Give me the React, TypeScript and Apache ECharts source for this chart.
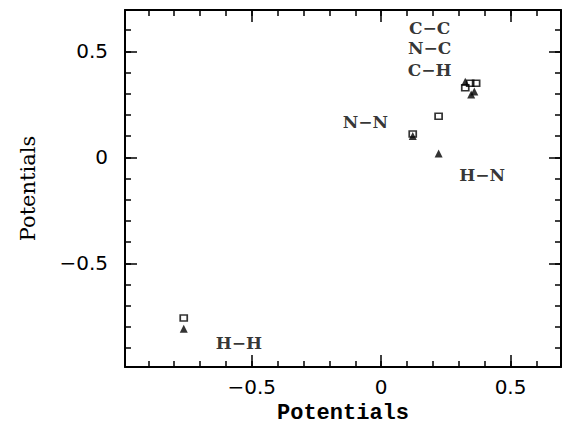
import React, { useEffect, useRef } from "react";
import * as echarts from "echarts";

const AXIS_MIN = -0.99;
const AXIS_MAX = 0.695;
const majorTicks = [-0.5, 0, 0.5];
const minorTicks = [-0.9, -0.8, -0.7, -0.6, -0.5, -0.4, -0.3, -0.2, -0.1, 0, 0.1, 0.2, 0.3, 0.4, 0.5, 0.6];

const bondNames = ["H−H", "N−N", "H−N", "C−C", "N−C", "C−H"];
const squareX = [-0.763, 0.122, 0.222, 0.325, 0.344, 0.367];
const squareY = [-0.758, 0.11, 0.194, 0.328, 0.349, 0.349];
const triangleX = [-0.763, 0.122, 0.222, 0.325, 0.348, 0.36];
const triangleY = [-0.809, 0.1, 0.018, 0.357, 0.296, 0.31];

const labelX = [-0.55, -0.061, 0.39, 0.187, 0.187, 0.187];
const labelY = [-0.874, 0.166, -0.085, 0.611, 0.515, 0.414];

const fmt = (v: number) => {
  const r = Math.round(v * 10) / 10;
  if (r === 0) return "0";
  return (r < 0 ? "−" : "") + String(Math.abs(r));
};

export default function App() {
  const ref = useRef<HTMLDivElement>(null);
  useEffect(() => {
    document.body.style.margin = "0";
    if (!ref.current) return;
    const chart = echarts.init(ref.current, undefined, { renderer: "svg" });
    const lineStyle = { color: "#000", width: 2 };
    const tickLabel = { fontFamily: "DejaVu Sans", fontSize: 20, color: "#000" };
    const mkAxis = (pos: string, major: boolean, main: boolean, isX: boolean) => ({
      type: "value",
      position: pos,
      min: AXIS_MIN,
      max: AXIS_MAX,
      axisLine: { show: main, onZero: false, lineStyle },
      axisTick: {
        show: true,
        inside: true,
        length: major ? 12 : 6,
        customValues: major ? majorTicks : minorTicks,
        lineStyle: { color: "#000", width: 1.5 },
      },
      axisLabel: main && (pos === "bottom" || pos === "left")
        ? {
            show: true,
            customValues: majorTicks,
            formatter: fmt,
            margin: isX ? 10 : 17,
            ...tickLabel,
          }
        : { show: false },
      splitLine: { show: false },
    });
    const xAxes: any[] = [
      {
        ...mkAxis("bottom", true, true, true),
        name: "Potentials",
        nameLocation: "middle",
        nameGap: 30,
        nameTextStyle: { fontFamily: "Liberation Mono", fontWeight: "bold", fontSize: 22, color: "#000" },
      },
      mkAxis("bottom", false, false, true),
      mkAxis("top", true, true, true),
      mkAxis("top", false, false, true),
    ];
    const yAxes: any[] = [
      {
        ...mkAxis("left", true, true, false),
        name: "Potentials",
        nameLocation: "middle",
        nameGap: 87,
        nameTextStyle: { fontFamily: "DejaVu Serif", fontSize: 21, color: "#000" },
      },
      mkAxis("left", false, false, false),
      mkAxis("right", true, true, false),
      mkAxis("right", false, false, false),
    ];
    chart.setOption({
      animation: false,
      backgroundColor: "#fff",
      grid: { left: 125, top: 10, width: 436, height: 366 },
      xAxis: xAxes,
      yAxis: yAxes,
      series: [
        {
          type: "scatter",
          symbol: "rect",
          symbolSize: [7, 6],
          itemStyle: { color: "rgba(255,255,255,0)", borderColor: "#000", borderWidth: 1.6 },
          data: squareX.map((x, i) => [x, squareY[i]]),
        },
        {
          type: "scatter",
          symbol: "triangle",
          symbolSize: 8,
          itemStyle: { color: "#000" },
          data: triangleX.map((x, i) => [x, triangleY[i]]),
        },
        {
          type: "scatter",
          symbolSize: 0,
          silent: true,
          label: {
            show: true,
            position: "inside",
            formatter: (p: any) => p.name,
            fontFamily: "DejaVu Serif",
            fontWeight: "bold",
            fontSize: 17,
            color: "#000",
          },
          data: bondNames.map((n, i) => ({ name: n, value: [labelX[i], labelY[i]] })),
        },
      ],
    });
    return () => chart.dispose();
  }, []);
  return <div ref={ref} style={{ width: 562, height: 429 }} />;
}
